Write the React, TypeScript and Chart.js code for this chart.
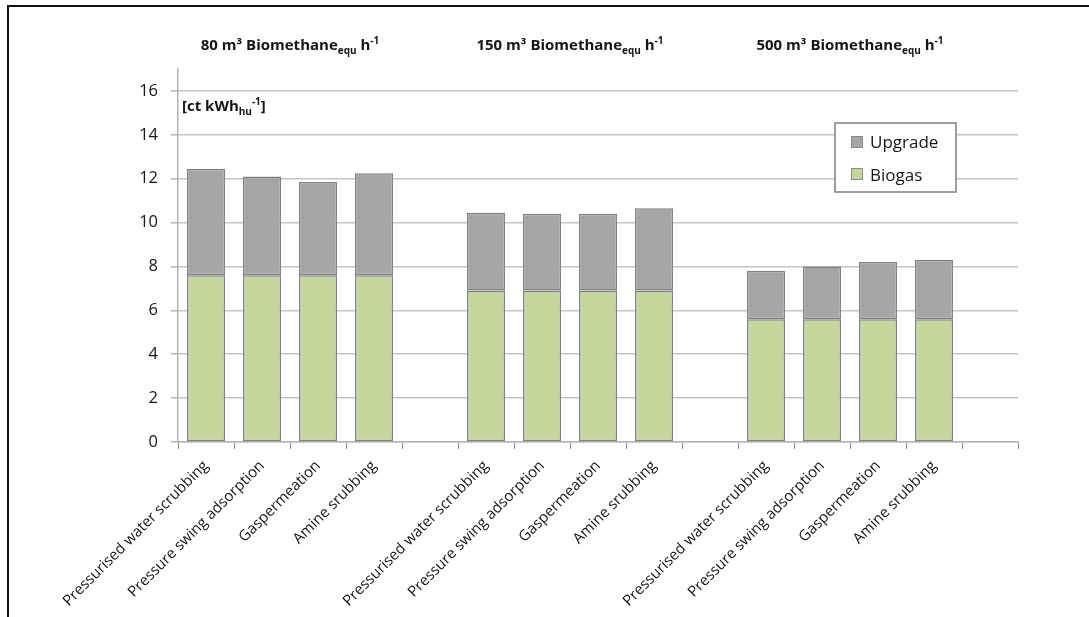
import React, { useEffect, useRef } from 'react';
import { Chart, registerables } from 'chart.js';

Chart.register(...registerables);

const categories = [
  'Pressurised water scrubbing', 'Pressure swing adsorption', 'Gaspermeation', 'Amine srubbing', '',
  'Pressurised water scrubbing', 'Pressure swing adsorption', 'Gaspermeation', 'Amine srubbing', '',
  'Pressurised water scrubbing', 'Pressure swing adsorption', 'Gaspermeation', 'Amine srubbing', '',
];
const biogasValues = [7.6, 7.6, 7.6, 7.6, null, 6.9, 6.9, 6.9, 6.9, null, 5.6, 5.6, 5.6, 5.6, null];
const upgradeValues = [4.85, 4.5, 4.25, 4.65, null, 3.55, 3.5, 3.5, 3.75, null, 2.2, 2.4, 2.6, 2.7, null];
const groupSizes = ['80', '150', '500'];
const groupStartIndex = [0, 5, 10];
const yMin = 0;
const yMax = 17;
const yStep = 2;

const FONT = '"Open Sans", "DejaVu Sans", sans-serif';
const TEXT = '#151515';
const UPGRADE_COLOR = '#a6a6a6';
const BIOGAS_COLOR = '#c3d69b';
const BORDER_COLOR = '#808080';

type Part = { t: string; size: number; dy: number };

function drawRich(ctx: CanvasRenderingContext2D, parts: Part[], x: number, y: number, align: 'left' | 'center') {
  let w = 0;
  parts.forEach((p) => {
    ctx.font = `bold ${p.size}px ${FONT}`;
    w += ctx.measureText(p.t).width;
  });
  let cx = align === 'center' ? x - w / 2 : x;
  ctx.textAlign = 'left';
  ctx.textBaseline = 'alphabetic';
  ctx.fillStyle = TEXT;
  parts.forEach((p) => {
    ctx.font = `bold ${p.size}px ${FONT}`;
    ctx.fillText(p.t, cx, y + p.dy);
    cx += ctx.measureText(p.t).width;
  });
}

const overlayPlugin = {
  id: 'overlay',
  afterDraw(chart: any) {
    const ctx: CanvasRenderingContext2D = chart.ctx;
    const area = chart.chartArea;
    const xs = chart.scales.x;
    ctx.save();
    // group titles
    groupSizes.forEach((size, g) => {
      const i = groupStartIndex[g];
      const cx = (xs.getPixelForValue(i + 1) + xs.getPixelForValue(i + 2)) / 2;
      drawRich(
        ctx,
        [
          { t: `${size} m³ Biomethane`, size: 15, dy: 0 },
          { t: 'equ', size: 10, dy: 4 },
          { t: ' h', size: 15, dy: 0 },
          { t: '-1', size: 10, dy: -6 },
        ],
        cx,
        area.top - 19,
        'center'
      );
    });
    // unit label
    drawRich(
      ctx,
      [
        { t: '[ct kWh', size: 15, dy: 0 },
        { t: 'hu', size: 10, dy: 4 },
        { t: '-1', size: 10, dy: -6 },
        { t: ']', size: 15, dy: 0 },
      ],
      area.left + 4,
      area.top + 42,
      'left'
    );
    // legend
    const bx = area.right - 183;
    const by = area.top + 54;
    const bw = 121;
    const bh = 69;
    ctx.fillStyle = '#ffffff';
    ctx.fillRect(bx, by, bw, bh);
    ctx.strokeStyle = '#7f7f7f';
    ctx.lineWidth = 1.5;
    ctx.strokeRect(bx, by, bw, bh);
    const items = [
      { label: chart.data.datasets[1].label, color: UPGRADE_COLOR, my: 13, ty: 24.5 },
      { label: chart.data.datasets[0].label, color: BIOGAS_COLOR, my: 45, ty: 57.5 },
    ];
    items.forEach((it) => {
      ctx.fillStyle = it.color;
      ctx.fillRect(bx + 16, by + it.my, 12, 12);
      ctx.strokeStyle = '#8c8c8c';
      ctx.lineWidth = 1;
      ctx.strokeRect(bx + 16.5, by + it.my + 0.5, 11, 11);
      ctx.fillStyle = TEXT;
      ctx.font = `17px ${FONT}`;
      ctx.textAlign = 'left';
      ctx.textBaseline = 'alphabetic';
      ctx.fillText(it.label, bx + 35, by + it.ty);
    });
    ctx.restore();
  },
};

export default function App() {
  const ref = useRef<HTMLCanvasElement | null>(null);

  useEffect(() => {
    document.body.style.overflow = 'hidden';
    if (!ref.current) return;
    const chart = new Chart(ref.current, {
      type: 'bar',
      data: {
        labels: categories,
        datasets: [
          {
            label: 'Biogas',
            data: biogasValues as any,
            backgroundColor: BIOGAS_COLOR,
            borderColor: BORDER_COLOR,
            borderWidth: 1.5,
            borderSkipped: false,
            categoryPercentage: 1,
            barPercentage: 0.68,
          },
          {
            label: 'Upgrade',
            data: upgradeValues as any,
            backgroundColor: UPGRADE_COLOR,
            borderColor: BORDER_COLOR,
            borderWidth: 1.5,
            borderSkipped: false,
            categoryPercentage: 1,
            barPercentage: 0.68,
          },
        ],
      },
      options: {
        responsive: false,
        animation: false,
        layout: { padding: { left: 0, right: 71, top: 69, bottom: 0 } },
        plugins: {
          legend: { display: false },
          tooltip: { enabled: false },
        },
        scales: {
          x: {
            stacked: true,
            offset: true,
            afterFit(scale: any) {
              scale.height = 175;
            },
            grid: {
              display: true,
              offset: true,
              drawOnChartArea: false,
              drawTicks: true,
              tickLength: 7,
              tickColor: '#8a8a8a',
              tickWidth: 1,
            },
            border: { display: true, color: '#b4b4b4', width: 1.5 },
            ticks: {
              autoSkip: false,
              maxRotation: 45,
              minRotation: 45,
              padding: 8,
              color: TEXT,
              font: { family: FONT, size: 15 },
            },
          },
          y: {
            stacked: true,
            min: yMin,
            max: yMax,
            afterFit(scale: any) {
              scale.width = 178;
            },
            grid: {
              color: '#c4c4c4',
              lineWidth: 1.5,
              drawTicks: true,
              tickLength: 7,
              tickColor: '#b4b4b4',
            },
            border: { display: true, color: '#b4b4b4', width: 1.5 },
            ticks: {
              stepSize: yStep,
              includeBounds: false,
              padding: 13,
              color: TEXT,
              font: { family: FONT, size: 16.5 },
            },
          },
        },
      },
      plugins: [overlayPlugin],
    });
    return () => chart.destroy();
  }, []);

  return (
    <div style={{ position: 'absolute', left: 0, top: 0, width: 1089, height: 617, overflow: 'hidden', background: '#fff' }}>
      <div
        style={{
          position: 'absolute',
          left: 7,
          top: 5,
          right: 0,
          bottom: 0,
          borderLeft: '2px solid #111',
          borderTop: '2px solid #111',
        }}
      />
      <canvas ref={ref} width={1089} height={617} style={{ position: 'absolute', left: 0, top: 0 }} />
    </div>
  );
}
